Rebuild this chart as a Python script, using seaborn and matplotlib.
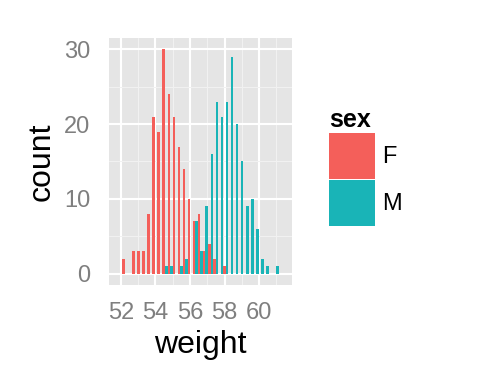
import numpy as np
import pandas as pd
import matplotlib
matplotlib.use("Agg")
import matplotlib.pyplot as plt
import seaborn as sns

# -------------------------------
# Data: weight histogram counts per bin
# -------------------------------
weight_bins = [52.21, 52.50, 52.79, 53.08, 53.38, 53.67, 53.96, 54.26,
               54.55, 54.84, 55.14, 55.43, 55.72, 56.01, 56.31, 56.60,
               56.89, 57.19, 57.48, 57.77, 58.07, 58.36, 58.65, 58.94,
               59.24, 59.53, 59.82, 60.12, 60.41, 60.70, 61.00]
count_F = [2, 0, 3, 3, 3, 8, 21, 19, 30, 24, 21, 17, 14, 10, 7, 8,
           3, 4, 2, 0, 1, 0, 0, 0, 0, 0, 0, 0, 0, 0, 0]
count_M = [0, 0, 0, 0, 0, 0, 0, 0, 1, 1, 0, 1, 2, 0, 7, 3,
           9, 16, 23, 21, 23, 29, 20, 15, 9, 10, 6, 2, 1, 0, 1]
sex_levels = ["F", "M"]
palette = {"F": "#F45F5A", "M": "#19B4B7"}

df = pd.DataFrame({
    "weight": weight_bins * 2,
    "count": count_F + count_M,
    "sex": ["F"] * len(weight_bins) + ["M"] * len(weight_bins),
})

# -------------------------------
# Plot
# -------------------------------
sns.set_style("white")
plt.rcParams["font.family"] = ["Liberation Sans", "DejaVu Sans"]
plt.rcParams["text.color"] = "black"
plt.rcParams["axes.labelcolor"] = "black"

fig = plt.figure(figsize=(4.8, 3.84), dpi=100)
ax = fig.add_axes([0.2271, 0.2578, 0.3813, 0.6432])

# 31 bins, same binning as the original ggplot histogram
sns.histplot(data=df, x="weight", weights="count", hue="sex",
             hue_order=sex_levels, palette=palette, bins=31,
             binrange=(52.06, 61.14), multiple="dodge", shrink=1,
             alpha=1, linewidth=0, ax=ax)

ax.set_facecolor("#E5E5E5")
ax.set_xlim(51.31, 61.9)
ax.set_ylim(-1.51, 31.5)
ax.set_xticks([52, 54, 56, 58, 60])
ax.set_xticks([53, 55, 57, 59, 61], minor=True)
ax.set_yticks([0, 10, 20, 30])
ax.set_yticks([5, 15, 25], minor=True)
ax.grid(which="major", color="white", linewidth=1.5)
ax.grid(which="minor", color="#F2F2F2", linewidth=0.7)
ax.set_axisbelow(True)
for s in ax.spines.values():
    s.set_visible(False)

ax.tick_params(which="major", length=7.5, width=1.5, color="#7F7F7F",
               labelcolor="#7F7F7F", labelsize=17, pad=5)
ax.tick_params(axis="y", pad=6)
ax.tick_params(which="minor", length=0)
ax.set_xlabel("weight", fontsize=23, labelpad=4)
ax.set_ylabel("count", fontsize=23, labelpad=5)

sns.move_legend(ax, "upper left", bbox_to_anchor=(0.686, 0.72),
                bbox_transform=fig.transFigure, frameon=False,
                title="sex", fontsize=17, handlelength=1.95,
                handleheight=2.62, handletextpad=0.3, labelspacing=0.05,
                borderpad=0, borderaxespad=0)
leg = ax.get_legend()
leg.get_title().set_fontsize(18)
leg.get_title().set_fontweight("bold")
leg._legend_box.align = "left"

plt.savefig("out.png", dpi=100)
